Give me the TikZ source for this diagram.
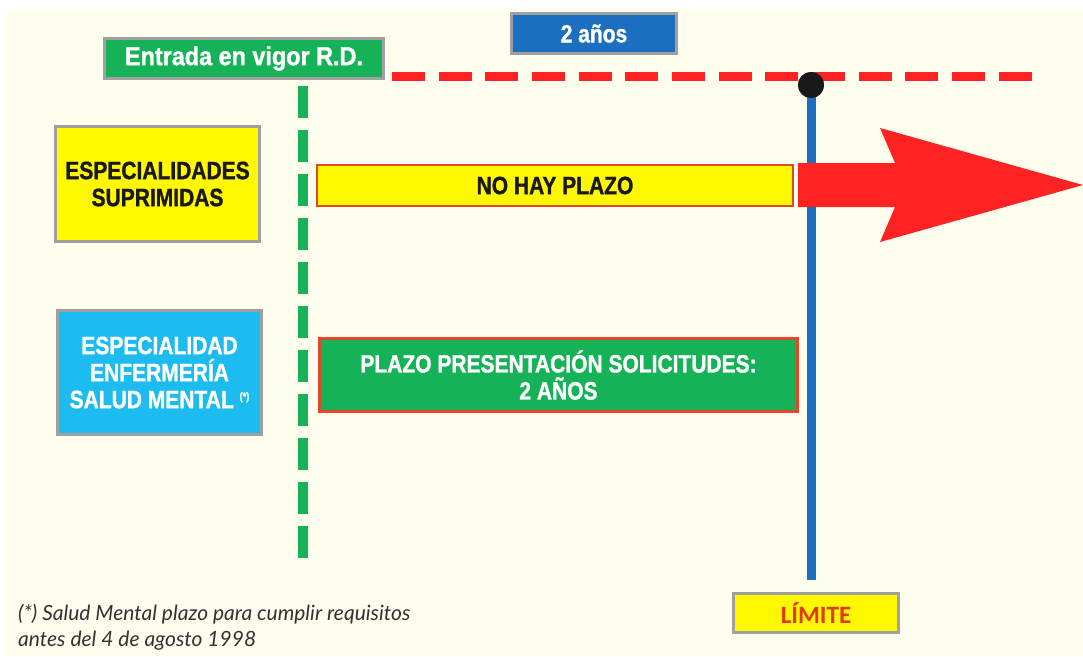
\documentclass[tikz,border=0pt]{standalone}
\usepackage{fontspec}
\setmainfont{Liberation Sans}
\newfontfamily\cond{Liberation Sans}[FakeStretch=0.84, BoldFeatures={FakeBold=1.2}]
\newfontfamily\condw{Liberation Sans}[FakeStretch=0.9, BoldFeatures={FakeBold=1.2}]
\newfontfamily\footfont{Lato}
\newfontfamily\limfont{Carlito}
\definecolor{bgc}{RGB}{255,254,238}
\definecolor{gbox}{RGB}{22,178,88}
\definecolor{bbox}{RGB}{28,110,192}
\definecolor{cbox}{RGB}{28,188,240}
\definecolor{ybox}{RGB}{255,248,0}
\definecolor{rarrow}{RGB}{255,34,34}
\definecolor{rborder}{RGB}{228,70,40}
\definecolor{gborder}{RGB}{160,160,160}
\definecolor{limred}{RGB}{224,58,18}
\definecolor{foottxt}{RGB}{50,50,50}
\tikzset{
  labelbox/.style={rectangle, draw=gborder, line width=3pt, inner sep=0pt, align=center,
     font=\cond\bfseries\fontsize{25}{27}\selectfont},
  barbox/.style={rectangle, draw=rborder, inner sep=0pt, align=center,
     font=\cond\bfseries\fontsize{25}{27}\selectfont},
  foottext/.style={anchor=base west, inner sep=0pt, text=foottxt,
     font=\footfont\itshape\fontsize{21}{24}\selectfont}
}
\begin{document}
\begin{tikzpicture}[x=1pt,y=-1pt]
\useasboundingbox (0,0) rectangle (1083,656);
\fill[white] (0,0) rectangle (1083,656);
\fill[bgc] (6,9) rectangle (1083,656);

% red dashed time line
\coordinate (rdstart) at (392,76);
\coordinate (rdend) at (1032,76);
\draw[rarrow, line width=9pt, dash pattern=on 33pt off 13.67pt] (rdstart) -- (rdend);

% green dashed vertical line
\coordinate (gtop) at (303,86);
\coordinate (gbot) at (303,558);
\draw[gbox, line width=10pt, dash pattern=on 32pt off 12pt] (gtop) -- (gbot);

% blue vertical line and dot
\coordinate (bbot) at (811,580);
\node[circle, fill=black!90, inner sep=0pt, minimum size=26pt] (dot) at (811,85) {};
\draw[bbox, line width=9pt] (dot.center) -- (bbot);
\node[circle, fill=black!90, inner sep=0pt, minimum size=26pt] at (dot) {};

% top boxes
\node[labelbox, fill=gbox, text=white, minimum width=279pt, minimum height=40pt, font=\condw\bfseries\fontsize{26}{28}\selectfont] (entrada) at (244,58.5) {Entrada en vigor R.D.};
\node[labelbox, fill=bbox, text=white, minimum width=165pt, minimum height=40pt] (anos) at (594,33.5) {2 años};

% left category boxes
\node[labelbox, fill=ybox, text=black!90, minimum width=204pt, minimum height=115pt] (supr) at (157.5,184) {ESPECIALIDADES\\SUPRIMIDAS};
\node[labelbox, fill=cbox, text=white, minimum width=204pt, minimum height=124pt] (salud) at (159.5,372.5) {ESPECIALIDAD\\ENFERMERÍA\\SALUD MENTAL {\fontsize{11}{11}\selectfont\raisebox{8pt}{(*)}}};

% bars
\node[barbox, line width=2pt, fill=ybox, text=black!90, minimum width=476pt, minimum height=41pt] (nohay) at (555,185.5) {NO HAY PLAZO};
\node[barbox, line width=3pt, fill=gbox, text=white, minimum width=478pt, minimum height=73pt] (plazo) at (558.5,375) {PLAZO PRESENTACIÓN SOLICITUDES:\\2 AÑOS};

% red arrow
\fill[rarrow] (798,163) -- (895,163) -- (880,128) -- (1083,185) -- (880,242) -- (895,207) -- (798,207) -- cycle;

% limit box
\node[rectangle, draw=gborder, line width=3pt, fill=ybox, text=limred, inner sep=0pt, minimum width=165pt, minimum height=39pt, font=\limfont\bfseries\fontsize{25}{28}\selectfont] (limite) at (816,613) {LÍMITE};

% footnote
\node[foottext] (foot1) at (18,620) {(*) Salud Mental plazo para cumplir requisitos};
\node[foottext] (foot2) at (18,646) {antes del 4 de agosto 1998};
\end{tikzpicture}
\end{document}
